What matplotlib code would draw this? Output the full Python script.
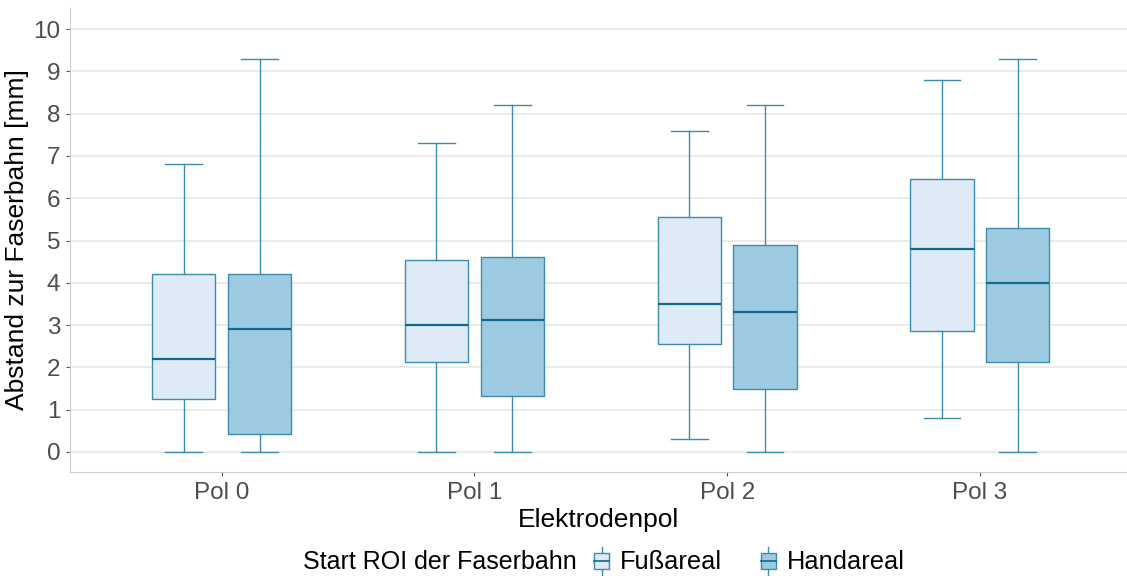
import matplotlib
matplotlib.use("Agg")
import matplotlib.pyplot as plt
from matplotlib.legend_handler import HandlerBase
from matplotlib.patches import Rectangle
from matplotlib.lines import Line2D

plt.rcParams['font.family'] = ['Liberation Sans', 'DejaVu Sans']

poles = ["Pol 0", "Pol 1", "Pol 2", "Pol 3"]
groups = ["Fußareal", "Handareal"]

# per group: whisker low, q1, median, q3, whisker high
fuss_low = [0.0, 0.0, 0.3, 0.8]
fuss_q1 = [1.25, 2.12, 2.55, 2.85]
fuss_med = [2.2, 3.0, 3.5, 4.8]
fuss_q3 = [4.2, 4.55, 5.55, 6.45]
fuss_high = [6.8, 7.3, 7.6, 8.8]

hand_low = [0.0, 0.0, 0.0, 0.0]
hand_q1 = [0.42, 1.32, 1.5, 2.12]
hand_med = [2.92, 3.12, 3.32, 4.0]
hand_q3 = [4.2, 4.6, 4.9, 5.3]
hand_high = [9.3, 8.2, 8.2, 9.3]

fills = ["#deeaf6", "#9ecae1"]
edge = "#3b8db0"
med_col = "#0f6a8e"


def stats(low, q1, med, q3, high):
    return [dict(whislo=a, q1=b, med=c, q3=d, whishi=e, fliers=[])
            for a, b, c, d, e in zip(low, q1, med, q3, high)]


class BoxKey(HandlerBase):
    def __init__(self, fc):
        super().__init__()
        self.fc = fc

    def create_artists(self, legend, orig, xd, yd, w, h, fs, trans):
        cx = xd + w / 2
        line = Line2D([cx, cx], [yd - 0.3 * h, yd + 1.3 * h], color=edge, lw=1, transform=trans)
        box = Rectangle((xd + 0.1 * w, yd + 0.05 * h), 0.8 * w, 0.9 * h, facecolor=self.fc, edgecolor=edge, lw=1, transform=trans)
        med = Line2D([xd + 0.1 * w, xd + 0.9 * w], [yd + h / 2] * 2, color=med_col, lw=1.2, transform=trans)
        return [line, box, med]


fig = plt.figure(figsize=(11.27, 5.76), dpi=100)
ax = fig.add_axes([70 / 1127, 104 / 576, 1057 / 1127, 464 / 576])

pos = list(range(len(poles)))
off = 0.15
for i, st in enumerate([stats(fuss_low, fuss_q1, fuss_med, fuss_q3, fuss_high),
                        stats(hand_low, hand_q1, hand_med, hand_q3, hand_high)]):
    ax.bxp(st, positions=[p + (2 * i - 1) * off for p in pos], widths=0.25,
           patch_artist=True, showfliers=False, capwidths=0.145,
           boxprops=dict(facecolor=fills[i], edgecolor=edge, lw=1),
           whiskerprops=dict(color=edge, lw=1),
           capprops=dict(color=edge, lw=1),
           medianprops=dict(color=med_col, lw=1.6))

ax.set_xlim(-0.6, 3.582)
ax.set_ylim(-0.473, 10.5)
ax.set_xticks(pos)
ax.set_xticklabels(poles)
ax.set_yticks(range(11))
ax.yaxis.grid(True, color="#ebebeb", lw=1.4)
ax.set_axisbelow(True)
for s in ["top", "right"]:
    ax.spines[s].set_visible(False)
for s in ["left", "bottom"]:
    ax.spines[s].set_color("#cccccc")
ax.tick_params(colors="#4d4d4d", labelsize=17.5, length=3, width=0.8, pad=4)
ax.tick_params(axis="both", color="#555555")
ax.set_xlabel("Elektrodenpol", fontsize=19, labelpad=3)
ax.set_ylabel("Abstand zur Faserbahn [mm]", fontsize=19, labelpad=3)

h1 = Rectangle((0, 0), 1, 1)
h2 = Rectangle((0, 0), 1, 1)
fig.text(303 / 1127, 14 / 576, "Start ROI der Faserbahn", fontsize=18, va="center", ha="left")
fig.legend([h1, h2], groups, handler_map={h1: BoxKey(fills[0]), h2: BoxKey(fills[1])},
           loc="center left", bbox_to_anchor=(592 / 1127, 14 / 576), ncol=2, frameon=False,
           fontsize=18.3, handlelength=0.75, handleheight=0.65, handletextpad=0.35,
           columnspacing=1.45, borderpad=0, borderaxespad=0)

fig.savefig("out.png", dpi=100)
